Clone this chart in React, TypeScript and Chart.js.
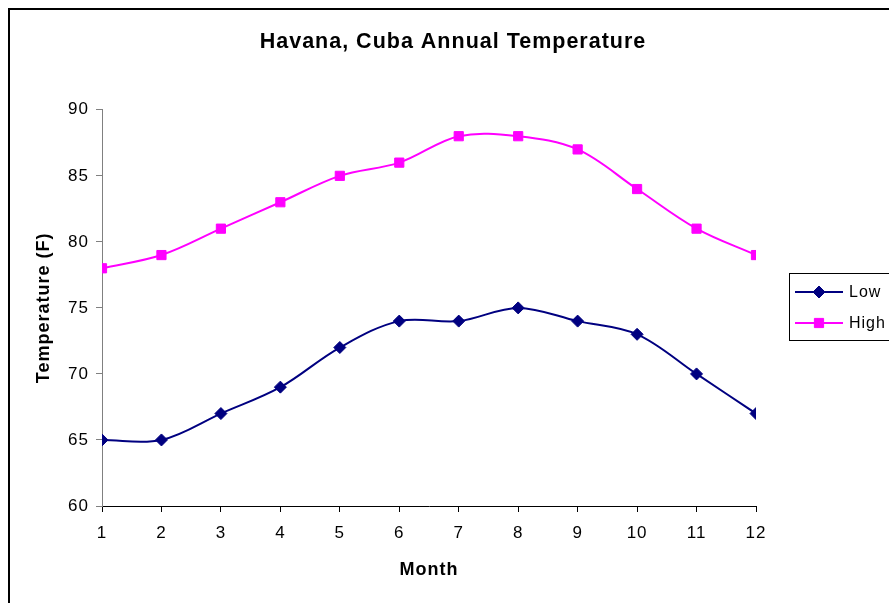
import { useEffect, useRef } from 'react';
import { Chart, registerables } from 'chart.js';

Chart.register(...registerables);

// Monthly temperatures for Havana (degrees F)
const months = [1, 2, 3, 4, 5, 6, 7, 8, 9, 10, 11, 12];
const lowTemps = [65, 65, 67, 69, 72, 74, 74, 75, 74, 73, 70, 67];
const highTemps = [78, 79, 81, 83, 85, 86, 88, 88, 87, 84, 81, 79];
const yTickValues = [60, 65, 70, 75, 80, 85, 90];
const seriesLabels = ['Low', 'High'];

const FONT = "'Liberation Sans', Arial, Helvetica, sans-serif";
const SPACING = '1px';

const W = 890;
const H = 600;

// White background plus the left/top frame edge of the chart area
const framePlugin = {
  id: 'frame',
  beforeUpdate(chart: any) {
    chart.ctx.letterSpacing = SPACING;
  },
  beforeDraw(chart: any) {
    const ctx = chart.ctx;
    ctx.save();
    ctx.fillStyle = '#fff';
    ctx.fillRect(0, 0, chart.width, chart.height);
    ctx.strokeStyle = '#000';
    ctx.lineWidth = 2;
    ctx.beginPath();
    ctx.moveTo(1, chart.height);
    ctx.lineTo(1, 1);
    ctx.lineTo(chart.width, 1);
    ctx.stroke();
    ctx.restore();
    ctx.letterSpacing = SPACING;
  },
};

function drawMarker(ctx: CanvasRenderingContext2D, style: string, r: number, x: number, y: number) {
  ctx.beginPath();
  if (style === 'rectRot') {
    ctx.moveTo(x - r, y);
    ctx.lineTo(x, y - r);
    ctx.lineTo(x + r, y);
    ctx.lineTo(x, y + r);
    ctx.closePath();
  } else {
    const s = r * Math.SQRT1_2;
    ctx.rect(x - s, y - s, 2 * s, 2 * s);
  }
  ctx.fill();
  ctx.stroke();
}

// Boxed legend with a line-and-marker sample for each series
const boxedLegend = {
  id: 'boxedLegend',
  afterDraw(chart: any) {
    const ctx: CanvasRenderingContext2D = chart.ctx;
    const bx = 781.5;
    const by = 265.5;
    ctx.save();
    (ctx as any).letterSpacing = SPACING;
    ctx.fillStyle = '#fff';
    ctx.fillRect(bx, by, 105, 67);
    ctx.strokeStyle = '#000';
    ctx.lineWidth = 1;
    ctx.strokeRect(bx, by, 105, 67);
    chart.data.datasets.forEach((ds: any, i: number) => {
      const y = 284 + i * 31;
      ctx.strokeStyle = ds.borderColor;
      ctx.lineWidth = 2;
      ctx.beginPath();
      ctx.moveTo(787, y);
      ctx.lineTo(835, y);
      ctx.stroke();
      ctx.fillStyle = ds.pointBackgroundColor;
      ctx.strokeStyle = ds.pointBorderColor;
      ctx.lineWidth = 1;
      drawMarker(ctx, ds.pointStyle, ds.pointRadius, 811, y);
      ctx.fillStyle = '#000';
      ctx.font = `16px ${FONT}`;
      ctx.textAlign = 'left';
      ctx.textBaseline = 'middle';
      ctx.fillText(ds.label, 841, y + 1);
    });
    ctx.restore();
  },
};

export default function App() {
  const canvasRef = useRef<HTMLCanvasElement | null>(null);

  useEffect(() => {
    const canvas = canvasRef.current;
    if (!canvas) return;
    const chart = new Chart(canvas, {
      type: 'line',
      data: {
        datasets: [
          {
            label: seriesLabels[0],
            data: months.map((m, i) => ({ x: m, y: lowTemps[i] })),
            borderColor: '#000080',
            backgroundColor: '#000080',
            pointBackgroundColor: '#000080',
            pointBorderColor: '#000080',
            pointStyle: 'rectRot',
            pointRadius: 6,
            pointBorderWidth: 1,
            borderWidth: 2,
            tension: 0.35,
            fill: false,
          },
          {
            label: seriesLabels[1],
            data: months.map((m, i) => ({ x: m, y: highTemps[i] })),
            borderColor: '#FF00FF',
            backgroundColor: '#FF00FF',
            pointBackgroundColor: '#FF00FF',
            pointBorderColor: '#FF00FF',
            pointStyle: 'rect',
            pointRadius: 6.5,
            pointBorderWidth: 1,
            borderWidth: 2,
            tension: 0.35,
            fill: false,
          },
        ],
      },
      options: {
        responsive: false,
        animation: false,
        layout: { padding: { left: 2, right: 2, top: 2, bottom: 0 } },
        plugins: {
          legend: { display: false },
          tooltip: { enabled: false },
          title: {
            display: true,
            text: 'Havana, Cuba Annual Temperature',
            color: '#000',
            font: { family: FONT, size: 21.5, weight: 'bold', lineHeight: 1.2 },
            padding: { top: 19, bottom: 55 },
          },
        },
        scales: {
          x: {
            type: 'linear',
            min: months[0],
            max: months[months.length - 1],
            afterBuildTicks: (scale: any) => {
              scale.ticks = months.map((m) => ({ value: m }));
            },
            ticks: {
              color: '#000',
              font: { family: FONT, size: 17 },
              padding: 11,
              maxRotation: 0,
              autoSkip: false,
            },
            grid: {
              drawOnChartArea: false,
              drawTicks: true,
              tickLength: 6,
              color: '#000',
            },
            border: { display: true, color: '#000', width: 1 },
            title: {
              display: true,
              text: 'Month',
              color: '#000',
              font: { family: FONT, size: 18, weight: 'bold', lineHeight: 1.2 },
              padding: { top: 0, bottom: 27 },
            },
            afterFit: (scale: any) => {
              scale.height = 102;
            },
          },
          y: {
            type: 'linear',
            position: 'left',
            min: yTickValues[0],
            max: yTickValues[yTickValues.length - 1],
            afterBuildTicks: (scale: any) => {
              scale.ticks = yTickValues.map((v) => ({ value: v }));
            },
            ticks: {
              color: '#000',
              font: { family: FONT, size: 17 },
              padding: 7,
            },
            grid: {
              drawOnChartArea: false,
              drawTicks: true,
              tickLength: 6,
              color: '#808080',
            },
            border: { display: true, color: '#808080', width: 1 },
            title: {
              display: true,
              text: 'Temperature (F)',
              color: '#000',
              font: { family: FONT, size: 18, weight: 'bold', lineHeight: 1.2 },
              padding: { top: 23, bottom: 0 },
            },
            afterFit: (scale: any) => {
              scale.width = 92;
            },
          },
          // Empty right-hand band that leaves room for the legend box
          legendSpace: {
            type: 'linear',
            position: 'right',
            display: true,
            min: 0,
            max: 1,
            ticks: { display: false },
            grid: { display: false },
            border: { display: false },
            afterFit: (scale: any) => {
              scale.width = 140;
            },
          },
        },
      },
      plugins: [framePlugin, boxedLegend],
    } as any);
    return () => chart.destroy();
  }, []);

  return (
    <div
      style={{
        position: 'fixed',
        left: 8,
        top: 8,
        width: 881,
        height: 595,
        overflow: 'hidden',
        background: '#fff',
      }}
    >
      <canvas ref={canvasRef} width={W} height={H} style={{ display: 'block', width: W, height: H }} />
    </div>
  );
}
